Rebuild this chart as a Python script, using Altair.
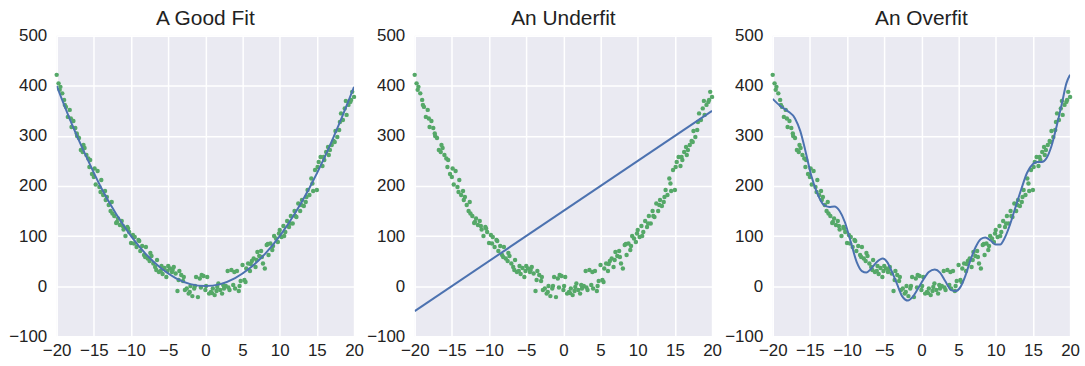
import altair as alt
import pandas as pd

# scatter data (shared by all three panels)
pts_x = [-20.00, -19.75, -19.50, -19.25, -19.00, -18.75, -18.50, -18.25, -18.00, -17.75,
         -17.50, -17.25, -17.00, -16.75, -16.50, -16.25, -16.00, -15.75, -15.50, -15.25,
         -15.00, -14.75, -14.50, -14.25, -14.00, -13.75, -13.50, -13.25, -13.00, -12.75,
         -12.50, -12.25, -12.00, -11.75, -11.50, -11.25, -11.00, -10.75, -10.50, -10.25,
         -10.00, -9.75, -9.50, -9.25, -9.00, -8.75, -8.50, -8.25, -8.00, -7.75,
         -7.50, -7.25, -7.00, -6.75, -6.50, -6.25, -6.00, -5.75, -5.50, -5.25,
         -5.00, -4.75, -4.50, -4.25, -4.00, -3.75, -3.50, -3.25, -3.00, -2.75,
         -2.50, -2.25, -2.00, -1.75, -1.50, -1.25, -1.00, -0.75, -0.50, -0.25,
         0.00, 0.25, 0.50, 0.75, 1.00, 1.25, 1.50, 1.75, 2.00, 2.25,
         2.50, 2.75, 3.00, 3.25, 3.50, 3.75, 4.00, 4.25, 4.50, 4.75,
         5.00, 5.25, 5.50, 5.75, 6.00, 6.25, 6.50, 6.75, 7.00, 7.25,
         7.50, 7.75, 8.00, 8.25, 8.50, 8.75, 9.00, 9.25, 9.50, 9.75,
         10.00, 10.25, 10.50, 10.75, 11.00, 11.25, 11.50, 11.75, 12.00, 12.25,
         12.50, 12.75, 13.00, 13.25, 13.50, 13.75, 14.00, 14.25, 14.50, 14.75,
         15.00, 15.25, 15.50, 15.75, 16.00, 16.25, 16.50, 16.75, 17.00, 17.25,
         17.50, 17.75, 18.00, 18.25, 18.50, 18.75, 19.00, 19.25, 19.50, 19.75,
         20.00,
         -19.6, -18.9, -18.1, -17.3, -16.4, -15.6, -14.9, -14.1, -13.4, -12.6,
         -11.9, -11.1, -10.4, -9.6, -8.9, -8.1, -7.4, -6.6, -5.9, -5.1,
         -4.4, -3.6, -2.9, -2.1, -1.4, -0.6, 0.1, 0.9, 1.6, 2.4,
         3.1, 3.9, 4.6, 5.4, 6.1, 6.9, 7.6, 8.4, 9.1, 9.9,
         10.6, 11.4, 12.1, 12.9, 13.6, 14.4, 15.1, 15.9, 16.6, 17.4,
         18.1, 18.9, 19.6]
pts_y = [422, 405, 398, 385, 372, 358, 338, 352, 318, 330,
         316, 300, 296, 272, 268, 276, 262, 255, 252, 224,
         218, 203, 230, 198, 212, 182, 190, 178, 162, 150,
         145, 140, 126, 135, 122, 130, 113, 100, 118, 108,
         86, 102, 98, 78, 92, 70, 80, 62, 78, 55,
         50, 60, 45, 38, 52, 28, 30, 24, 36, 18,
         40, 35, 28, 38, 25, -10, 30, 22, 10, -8,
         -5, -15, 0, -20, -5, 18, -22, 15, 22, 20,
         -8, 18, -15, -12, -5, -18, -10, 5, -8, -15,
         -5, 0, 30, -8, 32, 2, -5, 30, -10, 10,
         42, 12, 35, 45, 30, 50, 55, 38, 68, 60,
         70, 45, 35, 82, 62, 85, 72, 100, 95, 88,
         112, 98, 120, 108, 130, 118, 140, 125, 150, 138,
         165, 150, 172, 160, 168, 192, 182, 215, 190, 232,
         192, 248, 258, 240, 252, 268, 278, 272, 282, 290,
         310, 298, 312, 345, 332, 355, 342, 362, 368, 388,
         378,
         392, 362, 335, 305, 282, 238, 235, 188, 172, 168,
         128, 120, 115, 85, 90, 58, 66, 32, 40, 30,
         32, 12, 18, -12, 0, -3, 0, -14, -2, 2,
         -3, 28, 0, 8, 44, 52, 58, 84, 80, 105,
         100, 125, 140, 162, 178, 205, 238, 258, 262, 288,
         328, 370, 372]

# fitted curves
good_x = [-20, -18, -16, -14, -12, -10, -8, -6, -4, -2, 0, 2, 4, 6, 8, 10, 12, 14, 16, 18, 20]
good_y = [400, 325, 258, 196, 144, 100, 64, 36, 16, 4, 0, 4, 16, 36, 64, 100, 144, 196, 256, 324, 398]

under_x = [-20, 20]
under_y = [-50, 350]

over_x = [-20, -19, -18, -17, -16.3, -15.6, -14.8, -14.0, -13.2, -12.4, -11.7, -11.0, -10.3, -9.5,
          -8.7, -8.0, -7.4, -6.8, -6.0, -5.2, -4.6, -4.0, -3.3, -2.6, -1.8, -1.2, -0.5, 0.3, 1.0,
          1.8, 2.5, 3.2, 4.0, 4.6, 5.2, 5.9, 6.6, 7.3, 8.0, 8.6, 9.3, 10.0, 10.6, 11.2, 11.9,
          12.6, 13.4, 14.2, 15.0, 15.6, 16.2, 16.8, 17.5, 18.2, 18.9, 19.5, 20.0]
over_y = [374, 360, 350, 335, 310, 270, 220, 185, 163, 158, 159, 150, 128, 88,
          48, 30, 27, 34, 48, 55, 48, 30, 5, -20, -29, -22, -6, 14, 28,
          33, 27, 10, -8, -10, -3, 20, 52, 78, 94, 97, 91, 83, 83, 96, 122,
          155, 192, 226, 244, 248, 248, 255, 280, 320, 365, 405, 422]

GREEN = "#55A868"
BLUE = "#4C72B0"

pts = pd.DataFrame({"x": pts_x, "y": pts_y})

xs = alt.Scale(domain=[-20, 20], nice=False, zero=False)
ys = alt.Scale(domain=[-100, 500], nice=False, zero=False)
xax = alt.Axis(values=[-20, -15, -10, -5, 0, 5, 10, 15, 20], title=None,
               labelFlush=False, labelOverlap=False, labelPadding=6)
yax = alt.Axis(values=[-100, 0, 100, 200, 300, 400, 500], title=None,
               labelFlush=False, labelOverlap=False, labelPadding=10)


def panel(title, lx, ly):
    scat = alt.Chart(pts).mark_circle(size=20, color=GREEN, opacity=1).encode(
        x=alt.X("x:Q", scale=xs, axis=xax),
        y=alt.Y("y:Q", scale=ys, axis=yax),
    )
    line = alt.Chart(pd.DataFrame({"x": lx, "y": ly})).mark_line(
        color=BLUE, strokeWidth=2, interpolate="monotone", clip=True
    ).encode(x=alt.X("x:Q", scale=xs, axis=xax), y=alt.Y("y:Q", scale=ys, axis=yax))
    return alt.layer(scat, line).properties(
        width=299, height=302, title=alt.TitleParams(title, fontSize=21, fontWeight="normal", offset=-2)
    )


chart = alt.hconcat(
    panel("A Good Fit", good_x, good_y),
    panel("An Underfit", under_x, under_y),
    panel("An Overfit", over_x, over_y),
    spacing=2,
).configure(
    font="Liberation Sans",
    padding={"left": 8, "top": 7, "right": 5, "bottom": 5},
).configure_view(
    fill="#EAEAF2", stroke=None
).configure_axis(
    grid=True, gridColor="white", gridWidth=1.5, domain=False, ticks=False,
    labelFontSize=17, labelColor="#222222",
    labelFont="Liberation Sans",
).configure_title(
    font="Liberation Sans", color="#222222", anchor="middle"
)

chart.save("out.html", embed_options={"renderer": "svg", "actions": False})
